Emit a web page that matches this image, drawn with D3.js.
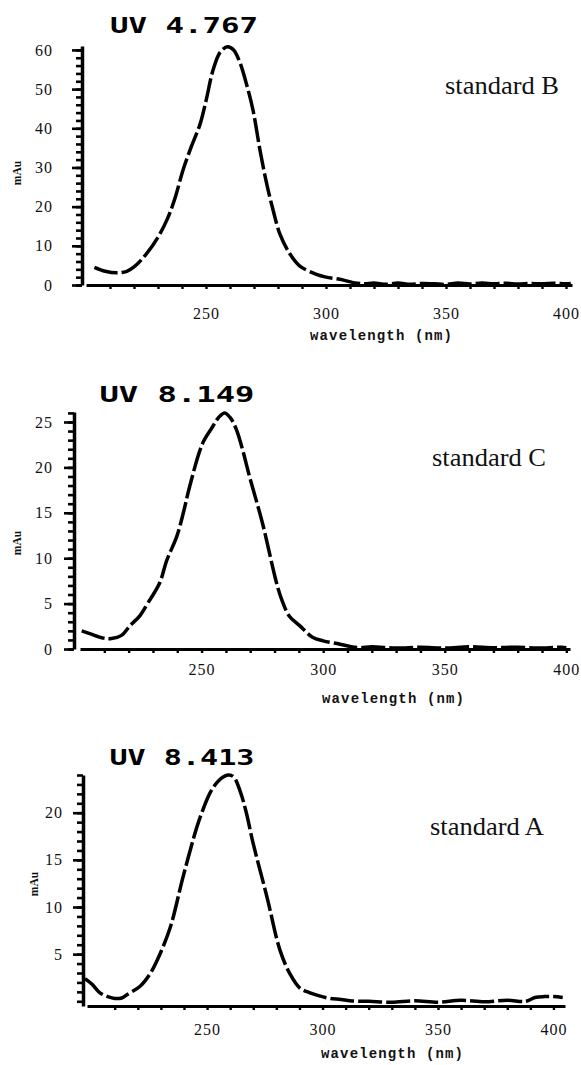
<!DOCTYPE html>
<html>
<head>
<meta charset="utf-8">
<script src="https://cdn.jsdelivr.net/npm/d3@7"></script>
<style>
  html, body { margin: 0; padding: 0; background: #fff; }
  svg { display: block; }
</style>
</head>
<body>
<svg id="chart" width="581" height="1065"></svg>
<script>
// ---------------- DATA ----------------
const standardNames = ["standard B", "standard C", "standard A"];
const uvTitles = ["UV 4.767", "UV 8.149", "UV 8.413"];
const xAxisTitle = "wavelength (nm)";
const yAxisTitle = "mAu";
const xTickLabels = [250, 300, 350, 400];
const yTickLabelsB = [0, 10, 20, 30, 40, 50, 60];
const yTickLabelsC = [0, 5, 10, 15, 20, 25];
const yTickLabelsA = [5, 10, 15, 20];

// standard B (UV 4.767)
const wavelengthB = [203.5, 208, 213, 217, 220, 225, 230, 234, 237, 240.5, 244, 247.5, 250, 253, 256, 259, 261.5, 264, 267, 269.6,
  272.5, 275.3, 278, 280.8, 285, 289, 296, 300, 305.8, 311.4, 316, 320, 325, 330, 335, 340, 345, 350, 355, 360,
  365, 370, 375, 380, 385, 390, 395, 400, 402];
const absorbanceB = [4.5, 3.5, 3.1, 3.5, 4.6, 7.8, 12.2, 17, 22, 29.5, 35.5, 41, 47, 55, 59.5, 60.8, 60, 57, 51, 44.6,
  34.4, 25.8, 19, 13, 7.9, 4.9, 2.7, 2.0, 1.45, 0.6, 0.3, 0.5, 0.2, 0.5, 0.2, 0.4, 0.3, 0.15, 0.5, 0.25,
  0.5, 0.3, 0.45, 0.25, 0.4, 0.3, 0.45, 0.3, 0.4];

// standard C (UV 8.149)
const wavelengthC = [200.7, 204, 209.6, 213, 217.1, 220.5, 224.6, 228, 232.8, 235.6, 239.8, 242.5, 245.1, 250.5, 254.6, 257, 259.5,
  262, 264.4, 267, 269.7, 275, 280.8, 283, 286.1, 290.2, 295.6, 300, 306.6, 310.7, 315, 320, 330, 340, 350,
  360, 370, 380, 390, 398, 400];
const absorbanceC = [2.0, 1.7, 1.2, 1.15, 1.5, 2.55, 3.65, 5.1, 7.3, 9.7, 12.4, 15, 17.9, 22.7, 24.5, 25.5, 26.0,
  25.4, 24.1, 21.8, 19, 13.9, 7.3, 5.4, 3.6, 2.6, 1.3, 0.9, 0.55, 0.3, 0.15, 0.25, 0.1, 0.2, 0.1,
  0.25, 0.15, 0.2, 0.1, 0.2, 0.15];

// standard A (UV 8.413)
const wavelengthA = [197.1, 200.2, 203.6, 207, 210.1, 213, 215.3, 221, 225, 228.3, 234, 239.6, 245.6, 248.5, 251.3, 255, 259.1,
  261.5, 264.3, 267, 269.9, 276, 281.6, 285.9, 290.2, 294.6, 299, 303.2, 308, 311.9, 320, 330, 340, 350,
  360, 370, 380, 388, 392, 396, 400, 404];
const absorbanceA = [2.4, 1.8, 0.9, 0.5, 0.3, 0.35, 0.7, 1.6, 2.8, 4.3, 7.8, 13.2, 18.5, 20.5, 22.1, 23.4, 24.0,
  23.8, 22.3, 20, 16.8, 11, 5.4, 2.9, 1.4, 0.9, 0.55, 0.3, 0.2, 0.05, 0, -0.1, 0.05, -0.1,
  0.1, -0.05, 0.1, 0.0, 0.4, 0.5, 0.5, 0.4];

// ---------------- LAYOUT ----------------
const panels = [
  { name: standardNames[0], title: uvTitles[0], nm: wavelengthB, val: absorbanceB, yLabels: yTickLabelsB, minorStep: 2,
    xDomain: [200, 402.5], xRange: [86, 572], yDomain: [0, 61], yRange: [285, 46], yAxisX: 82,
    yPad: 19, xPad: 23, titleX: 184, titleY: 33, titleW: 148, nameX: 445, nameY: 94, mauX: 21, mauY: 173, wlX: 381, wlY: 340 },
  { name: standardNames[1], title: uvTitles[1], nm: wavelengthC, val: absorbanceC, yLabels: yTickLabelsC, minorStep: 1,
    xDomain: [200, 401.5], xRange: [80, 570], yDomain: [0, 26.1], yRange: [649, 412], yAxisX: 74,
    yPad: 11, xPad: 15, titleX: 177, titleY: 402, titleW: 155, nameX: 432, nameY: 466, mauX: 21, mauY: 543, wlX: 393, wlY: 703 },
  { name: standardNames[2], title: uvTitles[2], nm: wavelengthA, val: absorbanceA, yLabels: yTickLabelsA, minorStep: 1,
    xDomain: [198, 405], xRange: [87, 565], yDomain: [-0.5, 24.0], yRange: [1006, 775], yAxisX: 83,
    yPad: 10, xPad: 18, titleX: 182, titleY: 765, titleW: 145, nameX: 430, nameY: 835, mauX: 38, mauY: 884, wlX: 392, wlY: 1058 }
];

const svg = d3.select("#chart");
svg.append("rect").attr("width", 581).attr("height", 1065).attr("fill", "#fff");

const serif = "'Liberation Serif', 'Times New Roman', serif";
const mono = "'Liberation Mono', 'Courier New', monospace";

panels.forEach(p => {
  const g = svg.append("g");
  const x = d3.scaleLinear().domain(p.xDomain).range(p.xRange);
  const y = d3.scaleLinear().domain(p.yDomain).range(p.yRange);
  const axisY = p.yRange[0];

  // ---- Y axis: minor ticks + domain
  const yMin = Math.ceil(Math.max(0, p.yDomain[0]) / p.minorStep) * p.minorStep;
  const minorVals = d3.range(yMin, p.yDomain[1] + 1e-6, p.minorStep);
  const yMinor = g.append("g")
    .attr("transform", `translate(${p.yAxisX},0)`)
    .call(d3.axisLeft(y).tickValues(minorVals).tickSize(6).tickSizeOuter(0).tickFormat(""));
  yMinor.select(".domain").attr("stroke", "#000").attr("stroke-width", 3.5);
  yMinor.selectAll(".tick line").attr("stroke", "#000").attr("stroke-width", 2.6);

  // ---- Y axis: major ticks + labels
  const yMajor = g.append("g")
    .attr("transform", `translate(${p.yAxisX},0)`)
    .call(d3.axisLeft(y).tickValues(p.yLabels).tickSize(10).tickPadding(p.yPad).tickFormat(d3.format("d")));
  yMajor.select(".domain").remove();
  yMajor.selectAll(".tick line").attr("stroke", "#000").attr("stroke-width", 2.6);
  yMajor.attr("font-family", null).attr("font-size", null);
  yMajor.selectAll(".tick text")
    .style("font-family", serif).style("font-size", "16px").style("letter-spacing", "1px").attr("fill", "#111");

  // ---- X axis: ticks every 10 nm + domain
  const xMinor = g.append("g")
    .attr("transform", `translate(0,${axisY})`)
    .call(d3.axisBottom(x).tickValues(d3.range(210, 401, 10)).tickSize(4).tickSizeOuter(0).tickFormat(""));
  xMinor.select(".domain").attr("stroke", "#000").attr("stroke-width", 3.2);
  xMinor.selectAll(".tick line").attr("stroke", "#000").attr("stroke-width", 2.4);

  // ---- X axis labels
  const xLab = g.append("g")
    .attr("transform", `translate(0,${axisY})`)
    .call(d3.axisBottom(x).tickValues(xTickLabels).tickSize(0).tickPadding(p.xPad).tickFormat(d3.format("d")));
  xLab.select(".domain").remove();
  xLab.attr("font-family", null).attr("font-size", null);
  xLab.selectAll(".tick text")
    .style("font-family", serif).style("font-size", "16px").style("letter-spacing", "1px").attr("fill", "#111");

  // ---- Spectrum curve (dashed)
  const pts = p.nm.map((d, i) => [d, p.val[i]]);
  const line = d3.line()
    .x(d => x(d[0]))
    .y(d => y(d[1]))
    .curve(d3.curveCatmullRom.alpha(0.5));
  g.append("path")
    .datum(pts)
    .attr("d", line)
    .attr("fill", "none")
    .attr("stroke", "#000")
    .attr("stroke-width", 3.5)
    .attr("stroke-dasharray", "24,4")
    .attr("stroke-linejoin", "round");

  // ---- UV title
  g.append("text")
    .attr("x", p.titleX).attr("y", p.titleY)
    .attr("text-anchor", "middle")
    .style("font-family", "'DejaVu Sans Mono', monospace")
    .style("font-weight", "bold")
    .style("font-size", "22px")
    .attr("textLength", p.titleW)
    .attr("lengthAdjust", "spacingAndGlyphs")
    .attr("fill", "#000")
    .text(p.title);

  // ---- standard name
  g.append("text")
    .attr("x", p.nameX).attr("y", p.nameY)
    .style("font-family", serif)
    .style("font-size", "26px")
    .attr("textLength", 114)
    .attr("lengthAdjust", "spacingAndGlyphs")
    .attr("fill", "#111")
    .text(p.name);

  // ---- mAu label
  g.append("text")
    .attr("transform", `translate(${p.mauX},${p.mauY}) rotate(-90)`)
    .attr("text-anchor", "middle")
    .style("font-family", serif)
    .style("font-weight", "bold")
    .style("font-size", "11.5px")
    .attr("fill", "#111")
    .text(yAxisTitle);

  // ---- wavelength label
  g.append("text")
    .attr("x", p.wlX).attr("y", p.wlY)
    .attr("text-anchor", "middle")
    .style("font-family", mono)
    .style("font-weight", "bold")
    .style("font-size", "14px")
    .attr("textLength", 142)
    .attr("lengthAdjust", "spacing")
    .attr("fill", "#111")
    .text(xAxisTitle);
});
</script>
</body>
</html>
